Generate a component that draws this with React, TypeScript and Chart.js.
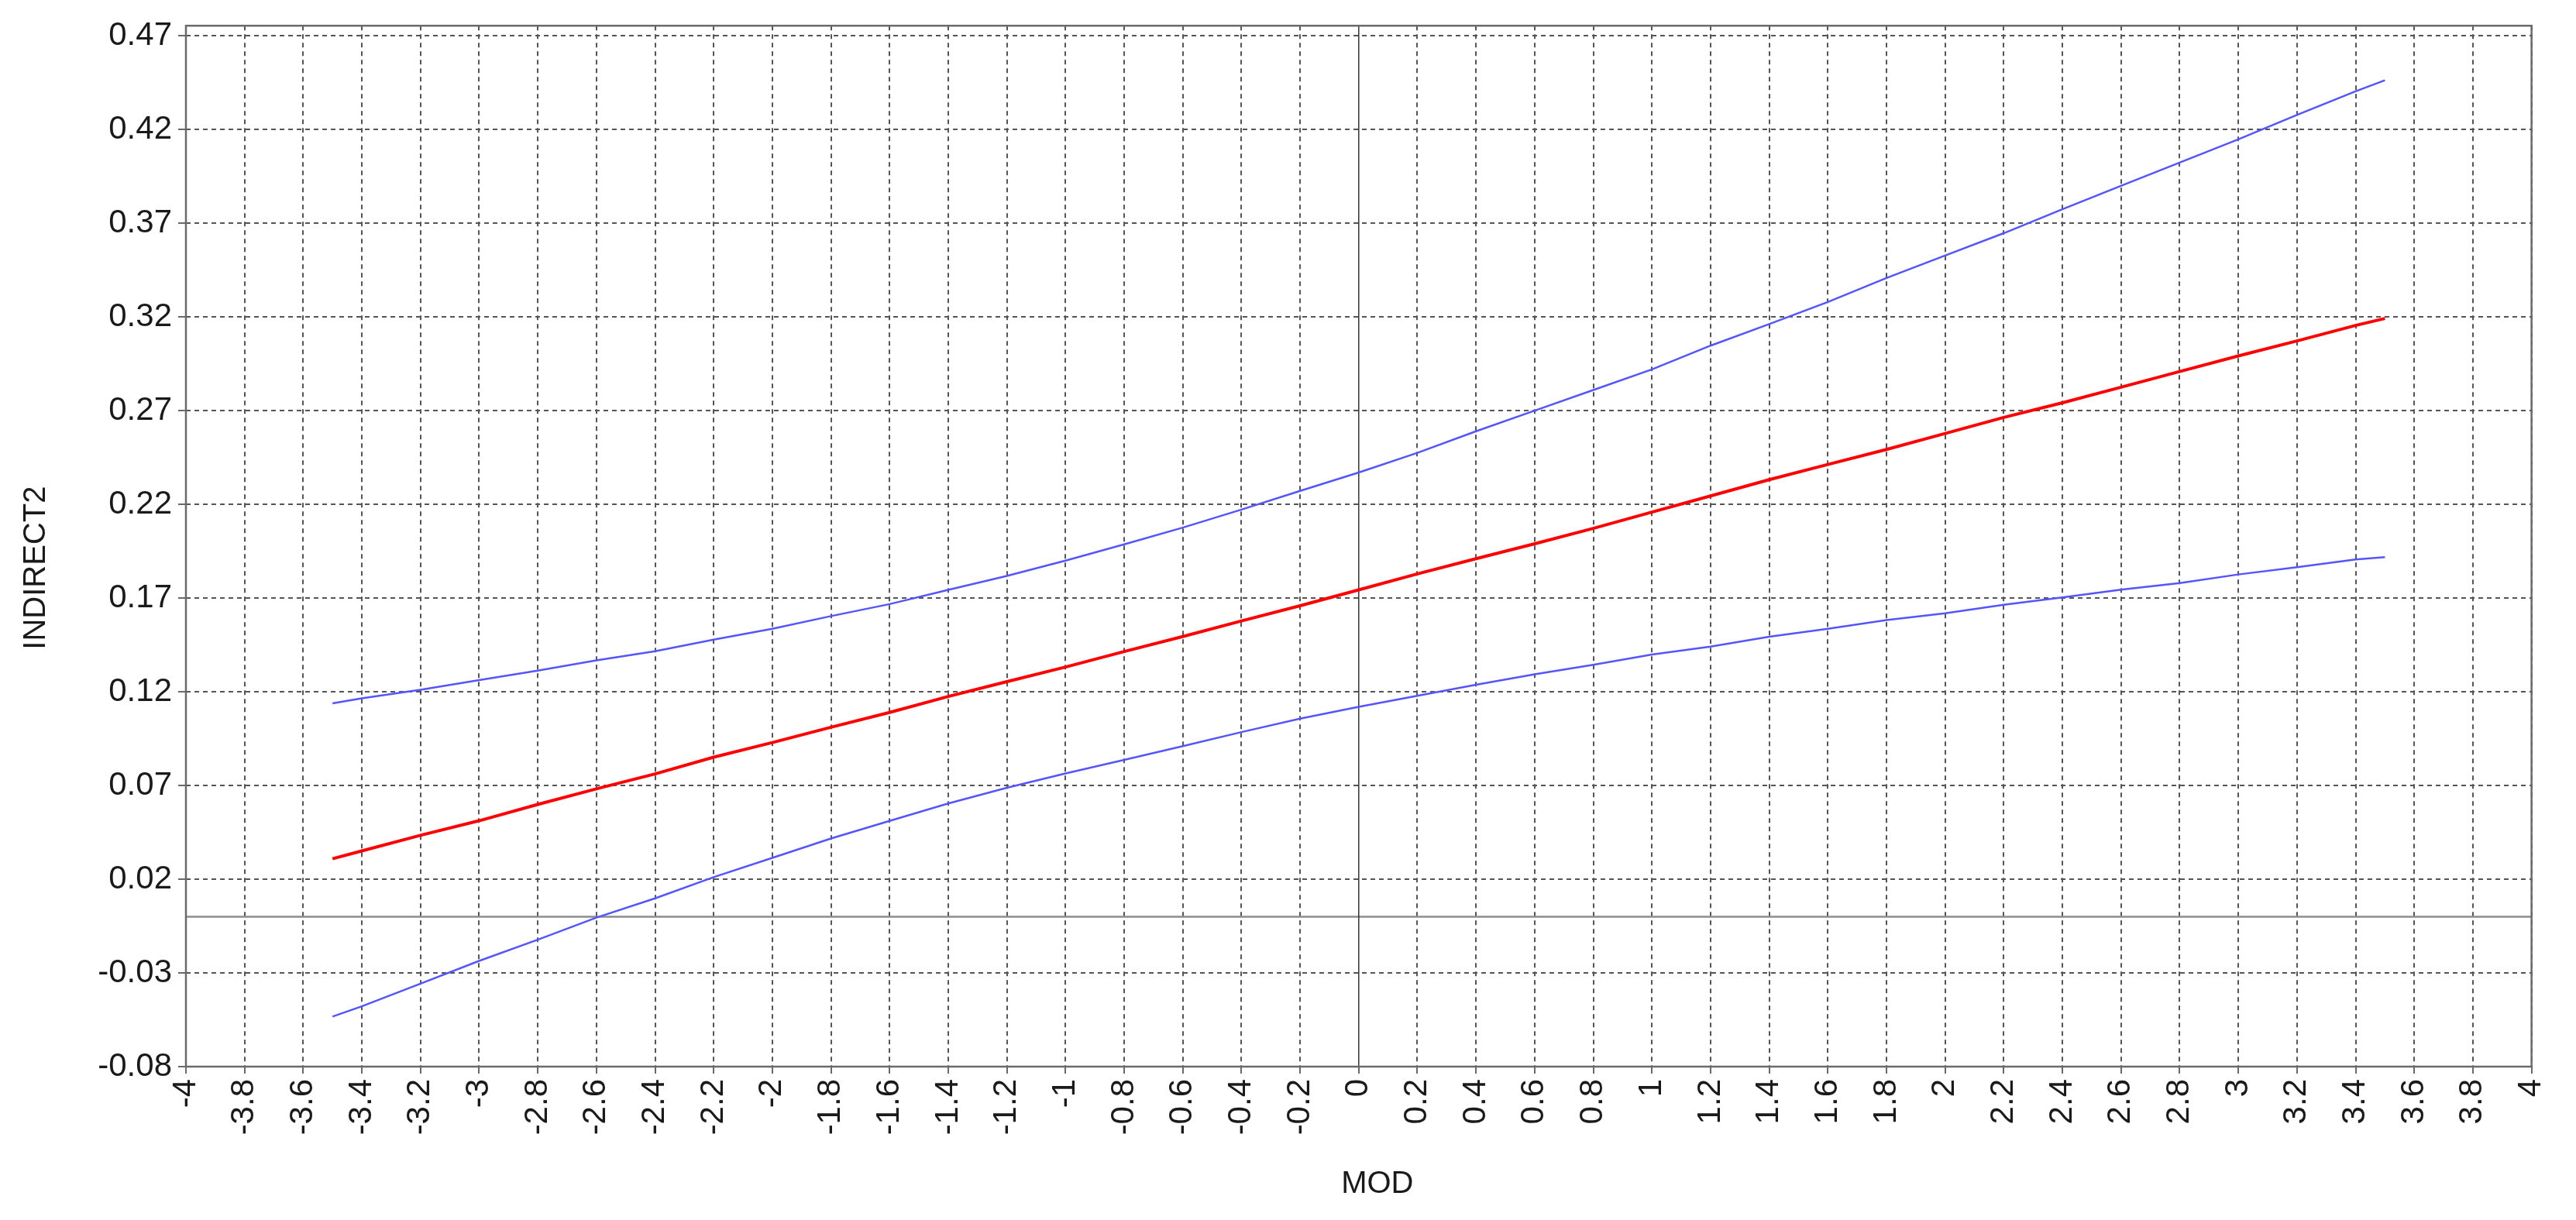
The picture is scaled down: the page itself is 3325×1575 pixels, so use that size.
import React, { useEffect, useRef } from "react";
import { Chart, registerables } from "chart.js";

Chart.register(...registerables);

// ---- data ----
const modValues = [
  -3.5, -3.4, -3.2, -3.0, -2.8, -2.6, -2.4, -2.2, -2.0, -1.8, -1.6, -1.4, -1.2,
  -1.0, -0.8, -0.6, -0.4, -0.2, 0, 0.2, 0.4, 0.6, 0.8, 1.0, 1.2, 1.4, 1.6, 1.8,
  2.0, 2.2, 2.4, 2.6, 2.8, 3.0, 3.2, 3.4, 3.5,
];

const indirectEffect = [
  0.0309, 0.0351, 0.0434, 0.0512, 0.0599, 0.0682, 0.0762, 0.0851, 0.0929,
  0.1011, 0.109, 0.1175, 0.1254, 0.1332, 0.1415, 0.1495, 0.1578, 0.1659, 0.1744,
  0.1829, 0.191, 0.199, 0.2072, 0.2159, 0.2245, 0.2332, 0.2413, 0.2493, 0.2578,
  0.2664, 0.2742, 0.2825, 0.2909, 0.2992, 0.3072, 0.3155, 0.3192,
];

const upperBound = [
  0.1138, 0.1165, 0.1211, 0.1262, 0.1313, 0.1368, 0.1416, 0.1478, 0.1536,
  0.1604, 0.1668, 0.1744, 0.1818, 0.19, 0.1987, 0.2076, 0.2172, 0.2272, 0.237,
  0.2475, 0.259, 0.27, 0.281, 0.292, 0.3047, 0.3162, 0.328, 0.3408, 0.3528,
  0.3647, 0.3775, 0.39, 0.4024, 0.4148, 0.4278, 0.4404, 0.4463,
];

const lowerBound = [
  -0.0533, -0.0478, -0.0357, -0.0236, -0.0123, -0.0005, 0.0098, 0.0211, 0.0314,
  0.0417, 0.0511, 0.0604, 0.0688, 0.0764, 0.0837, 0.091, 0.0985, 0.1057, 0.112,
  0.1179, 0.1238, 0.1293, 0.1344, 0.1399, 0.1441, 0.1494, 0.1536, 0.1583,
  0.1619, 0.1664, 0.1704, 0.1745, 0.178, 0.1826, 0.1865, 0.1906, 0.1919,
];

const xTickValues = [
  -4, -3.8, -3.6, -3.4, -3.2, -3, -2.8, -2.6, -2.4, -2.2, -2, -1.8, -1.6, -1.4,
  -1.2, -1, -0.8, -0.6, -0.4, -0.2, 0, 0.2, 0.4, 0.6, 0.8, 1, 1.2, 1.4, 1.6, 1.8,
  2, 2.2, 2.4, 2.6, 2.8, 3, 3.2, 3.4, 3.6, 3.8, 4,
];

const yTickValues = [
  -0.08, -0.03, 0.02, 0.07, 0.12, 0.17, 0.22, 0.27, 0.32, 0.37, 0.42, 0.47,
];

const xAxisTitle = "MOD";
const yAxisTitle = "INDIRECT2";

const xMin = -4;
const xMax = 4;
const yMin = -0.08;
const yMax = 0.4754;

// ---- styling ----
const FONT = "'Liberation Sans', Arial, Helvetica, sans-serif";
const GRID_COLOR = "#555555";
const FRAME_COLOR = "#6a6a6a";
const TEXT_COLOR = "#1a1a1a";

const fmt = (v: number) => String(Math.round(v * 100) / 100);

const framePlugin = {
  id: "frameAndZero",
  beforeDatasetsDraw(chart: any) {
    const { ctx, chartArea: a, scales } = chart;
    const x0 = scales.x.getPixelForValue(0);
    const y0 = scales.y.getPixelForValue(0);
    ctx.save();
    ctx.setLineDash([]);
    ctx.strokeStyle = "#8c8c8c";
    ctx.lineWidth = 2.5;
    ctx.beginPath();
    ctx.moveTo(a.left, y0);
    ctx.lineTo(a.right, y0);
    ctx.stroke();
    ctx.strokeStyle = "#333333";
    ctx.lineWidth = 1.5;
    ctx.beginPath();
    ctx.moveTo(x0, a.top);
    ctx.lineTo(x0, a.bottom);
    ctx.stroke();
    ctx.restore();
  },
  afterDraw(chart: any) {
    const { ctx, chartArea: a } = chart;
    ctx.save();
    ctx.setLineDash([]);
    ctx.strokeStyle = FRAME_COLOR;
    ctx.lineWidth = 2.5;
    ctx.strokeRect(a.left, a.top, a.right - a.left, a.bottom - a.top);

    // axis titles
    ctx.fillStyle = TEXT_COLOR;
    ctx.font = `40px ${FONT}`;
    ctx.textAlign = "center";
    ctx.textBaseline = "middle";
    ctx.fillText(xAxisTitle, (a.left + a.right) / 2 + 24, chart.height - 46);
    ctx.translate(47, (a.top + a.bottom) / 2 + 28);
    ctx.rotate(-Math.PI / 2);
    ctx.fillText(yAxisTitle, 0, 0);
    ctx.restore();
  },
};

export default function App() {
  const canvasRef = useRef<HTMLCanvasElement | null>(null);

  useEffect(() => {
    document.body.style.margin = "0";
    document.body.style.background = "#ffffff";
    const canvas = canvasRef.current;
    if (!canvas) return;

    const toPoints = (ys: number[]) => modValues.map((x, i) => ({ x, y: ys[i] }));

    const chart = new Chart(canvas, {
      type: "line",
      data: {
        datasets: [
          {
            label: "Upper",
            data: toPoints(upperBound),
            borderColor: "rgb(85,85,255)",
            borderWidth: 2.5,
            pointRadius: 0,
            tension: 0,
            fill: false,
          },
          {
            label: "Indirect",
            data: toPoints(indirectEffect),
            borderColor: "#ff0000",
            borderWidth: 4,
            pointRadius: 0,
            tension: 0,
            fill: false,
          },
          {
            label: "Lower",
            data: toPoints(lowerBound),
            borderColor: "rgb(85,85,255)",
            borderWidth: 2.5,
            pointRadius: 0,
            tension: 0,
            fill: false,
          },
        ],
      },
      options: {
        animation: false,
        responsive: false,
        maintainAspectRatio: false,
        devicePixelRatio: 1,
        layout: { padding: { left: 0, right: 43, top: 33, bottom: 0 } },
        plugins: {
          legend: { display: false },
          tooltip: { enabled: false },
        },
        scales: {
          x: {
            type: "linear",
            min: xMin,
            max: xMax,
            afterBuildTicks: (scale: any) => {
              scale.ticks = xTickValues.map((v) => ({ value: v }));
            },
            afterFit: (scale: any) => {
              scale.height = 198;
            },
            ticks: {
              autoSkip: false,
              minRotation: 90,
              maxRotation: 90,
              padding: 7,
              color: TEXT_COLOR,
              font: { family: FONT, size: 42, lineHeight: 1.2 },
              callback: (v: any) => fmt(Number(v)),
            },
            grid: {
              color: (c: any) =>
                c.tick && Math.abs(c.tick.value) < 1e-9 ? "rgba(0,0,0,0)" : GRID_COLOR,
              lineWidth: 2,
              drawTicks: true,
              tickLength: 9,
              tickWidth: 2,
              tickColor: FRAME_COLOR,
              tickBorderDash: [],
            },
            border: { display: false, dash: [6, 5] },
            title: { display: false, text: xAxisTitle },
          },
          y: {
            type: "linear",
            min: yMin,
            max: yMax,
            afterBuildTicks: (scale: any) => {
              scale.ticks = yTickValues.map((v) => ({ value: v }));
            },
            afterFit: (scale: any) => {
              scale.width = 240;
            },
            ticks: {
              autoSkip: false,
              padding: 8,
              color: TEXT_COLOR,
              font: { family: FONT, size: 42, lineHeight: 1.2 },
              callback: (v: any) => fmt(Number(v)),
            },
            grid: {
              color: GRID_COLOR,
              lineWidth: 2,
              drawTicks: true,
              tickLength: 10,
              tickWidth: 2,
              tickColor: FRAME_COLOR,
              tickBorderDash: [],
            },
            border: { display: false, dash: [6, 5] },
            title: { display: false, text: yAxisTitle },
          },
        },
      },
      plugins: [framePlugin],
    } as any);

    return () => {
      chart.destroy();
    };
  }, []);

  return (
    <div style={{ width: 3325, height: 1575, background: "#ffffff", overflow: "hidden" }}>
      <canvas
        ref={canvasRef}
        width={3325}
        height={1575}
        style={{ display: "block", width: 3325, height: 1575 }}
      />
    </div>
  );
}
